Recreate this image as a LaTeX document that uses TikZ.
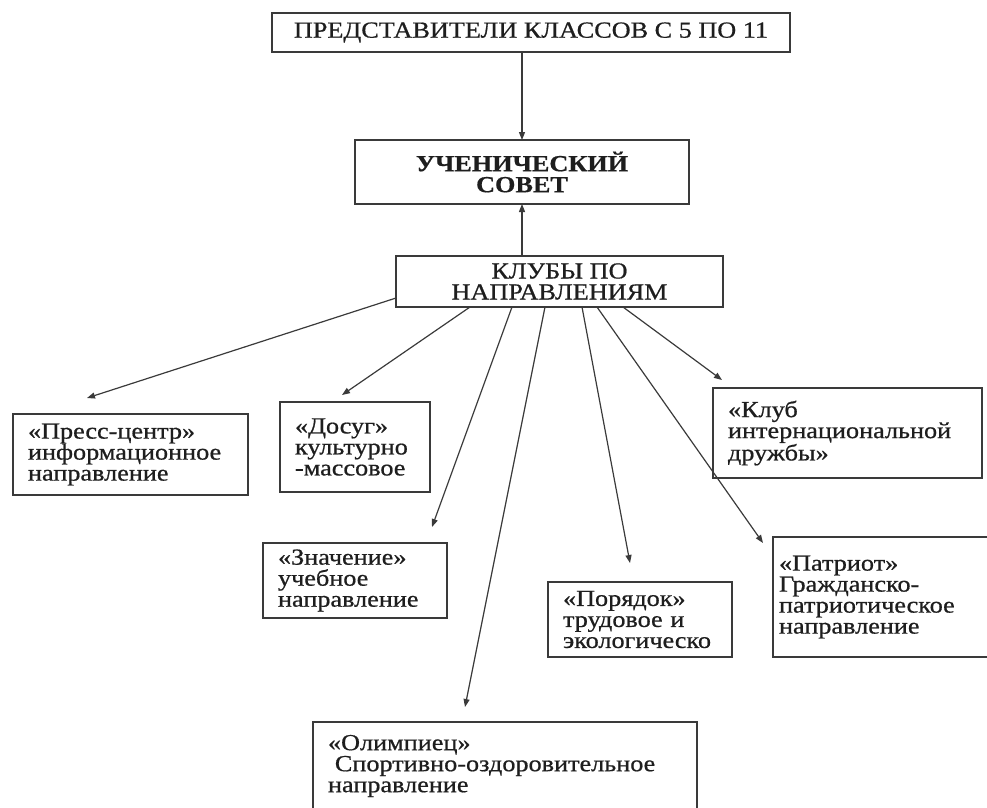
\documentclass[tikz,border=0pt]{standalone}
\usepackage{fontspec}
\setmainfont{Liberation Serif}[FakeStretch=1.14,FakeBold=0.7]
\usetikzlibrary{arrows.meta,calc}
\definecolor{line}{HTML}{3A3A3A}
\definecolor{ink}{HTML}{1E1E1E}
\newcommand{\boxfont}{\fontsize{23}{21}\selectfont}
\tikzset{
  font=\boxfont,
  block/.style={
    draw=line,
    line width=1.4pt,
    fill=white,
    text=ink,
    anchor=north west,
    align=left,
    inner xsep=15pt,
    inner ysep=0pt,
    outer sep=0pt
  },
  headblock/.style={
    block,
    anchor=center,
    align=center,
    inner xsep=0pt
  },
  arrow/.style={
    -{Triangle[length=8pt,width=6pt]},
    draw=line,
    line width=1.2pt
  }
}

\begin{document}
\begin{tikzpicture}[x=1pt,y=-1pt]
\clip (0,0) rectangle (987,807);

% Top of the scheme: representatives, council, clubs.
\node[headblock, minimum width=518pt, minimum height=39pt] (reps) at (531,32.5)
  {ПРЕДСТАВИТЕЛИ КЛАССОВ С 5 ПО 11};
\node[headblock, minimum width=334pt, minimum height=64pt, font=\boxfont\bfseries] (council) at (522,172)
  {УЧЕНИЧЕСКИЙ\\СОВЕТ};
\node[headblock, minimum width=327pt, minimum height=51pt] (clubs) at (559.5,281.5)
  {КЛУБЫ ПО\\НАПРАВЛЕНИЯМ};

\draw[arrow] (reps.south -| council.north) -- (council.north);
\draw[arrow] (clubs.north -| council.south) -- (council.south);

% The clubs.
\node[block, text width=205pt, minimum height=81pt] (press) at (13,414)
  {«Пресс-центр»\\информационное\\направление};
\node[block, text width=120pt, minimum height=90pt] (leisure) at (280,402)
  {«Досуг»\\культурно\\-массовое};
\node[block, text width=239pt, minimum height=90pt] (intl) at (713,388)
  {«Клуб\\интернациональной\\дружбы»};
\node[block, text width=154pt, minimum height=75pt] (study) at (263,543)
  {«Значение»\\учебное\\направление};
\node[block, text width=154pt, minimum height=75pt] (order) at (548,582)
  {«Порядок»\\трудовое и\\экологическо};
\node[block, inner xsep=6pt, text width=218pt, minimum height=120pt] (patriot) at (773,537)
  {«Патриот»\\Гражданско-\\патриотическое\\направление};
\node[block, text width=354pt, minimum height=88pt] (olymp) at (313,722)
  {«Олимпиец»\\\hspace*{0.3em}Спортивно-оздоровительное\\направление};

% Free ends of the arrows, short of the boxes.
\coordinate (pressTip) at (87,398);
\coordinate (leisureTip) at (342,395);
\coordinate (studyTip) at (432,527);
\coordinate (olympTip) at (465,707);
\coordinate (orderTip) at (630,563);
\coordinate (patriotTip) at (763,543);
\coordinate (intlTip) at (722,380);

\draw[arrow] ([yshift=-16.5pt]clubs.west) -- (pressTip);
\draw[arrow] ([xshift=-89.5pt]clubs.south) -- (leisureTip);
\draw[arrow] ([xshift=-47.5pt]clubs.south) -- (studyTip);
\draw[arrow] ([xshift=-14.5pt]clubs.south) -- (olympTip);
\draw[arrow] ([xshift=22.5pt]clubs.south) -- (orderTip);
\draw[arrow] ([xshift=37.5pt]clubs.south) -- (patriotTip);
\draw[arrow] ([xshift=63.5pt]clubs.south) -- (intlTip);

\end{tikzpicture}
\end{document}
